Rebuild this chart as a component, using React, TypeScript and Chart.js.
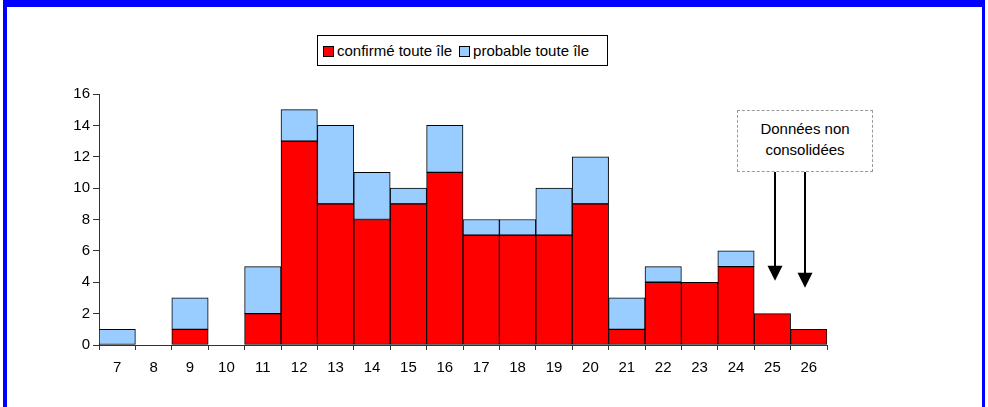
import React, { useEffect, useRef } from "react";
import { Chart, registerables } from "chart.js";

Chart.register(...registerables);

const categories = ["7", "8", "9", "10", "11", "12", "13", "14", "15", "16", "17", "18", "19", "20", "21", "22", "23", "24", "25", "26"];
const confirmed = [0, 0, 1, 0, 2, 13, 9, 8, 9, 11, 7, 7, 7, 9, 1, 4, 4, 5, 2, 1];
const probable = [1, 0, 2, 0, 3, 2, 5, 3, 1, 3, 1, 1, 3, 3, 2, 1, 0, 1, 0, 0];
const seriesNames = ["confirmé toute île", "probable toute île"];
const seriesColors = ["#FF0000", "#99CCFF"];
const yTicks = [0, 2, 4, 6, 8, 10, 12, 14, 16];
const arrowTargets = [
  { category: "25", offset: 0.08, tipValue: 4.1 },
  { category: "26", offset: -0.1, tipValue: 3.65 },
];
const arrowStartValue = 11.05;

const FONT = "Arial, 'Liberation Sans', Helvetica, sans-serif";

const arrowPlugin = {
  id: "arrows",
  afterDraw(chart: any) {
    const ctx = chart.ctx;
    const xs = chart.scales.x;
    const ys = chart.scales.y;
    ctx.save();
    arrowTargets.forEach((a) => {
      const idx = categories.indexOf(a.category);
      const x = Math.round(xs.getPixelForValue(idx + a.offset));
      const tip = ys.getPixelForValue(a.tipValue);
      const start = ys.getPixelForValue(arrowStartValue);
      const headH = 15;
      const headW = 7.5;
      ctx.strokeStyle = "#000";
      ctx.lineWidth = 2;
      ctx.beginPath();
      ctx.moveTo(x, start);
      ctx.lineTo(x, tip - headH + 1);
      ctx.stroke();
      ctx.fillStyle = "#000";
      ctx.beginPath();
      ctx.moveTo(x - headW, tip - headH);
      ctx.lineTo(x + headW, tip - headH);
      ctx.lineTo(x, tip);
      ctx.closePath();
      ctx.fill();
    });
    ctx.restore();
  },
};

const dropZeros = (arr: number[]) => arr.map((v) => (v === 0 ? null : v));

export default function App() {
  const ref = useRef<HTMLCanvasElement | null>(null);
  useEffect(() => {
    if (!ref.current) return;
    const chart = new Chart(ref.current, {
      type: "bar",
      data: {
        labels: categories,
        datasets: [
          {
            label: seriesNames[0],
            data: dropZeros(confirmed),
            backgroundColor: seriesColors[0],
            borderColor: "#000",
            borderWidth: 1,
            borderSkipped: false,
            barPercentage: 1,
            categoryPercentage: 1,
          },
          {
            label: seriesNames[1],
            data: dropZeros(probable),
            backgroundColor: seriesColors[1],
            borderColor: "#000",
            borderWidth: 1,
            borderSkipped: false,
            barPercentage: 1,
            categoryPercentage: 1,
          },
        ],
      },
      options: {
        animation: false,
        responsive: false,
        maintainAspectRatio: false,
        layout: { padding: { left: 0, top: 94, right: 161, bottom: 0 } },
        plugins: { legend: { display: false }, tooltip: { enabled: false } },
        scales: {
          x: {
            stacked: true,
            offset: true,
            grid: {
              offset: true,
              drawOnChartArea: false,
              drawTicks: true,
              tickLength: 5,
              color: "#333",
            },
            border: { color: "#333", width: 1 },
            ticks: { color: "#000", font: { family: FONT, size: 15 }, padding: 9, maxRotation: 0, autoSkip: false },
            afterFit: (s: any) => {
              s.height = 62;
            },
          },
          y: {
            stacked: true,
            min: 0,
            max: 16,
            afterBuildTicks: (s: any) => {
              s.ticks = yTicks.map((v) => ({ value: v }));
            },
            grid: { drawOnChartArea: false, drawTicks: true, tickLength: 6, color: "#333" },
            border: { color: "#333", width: 1 },
            ticks: { color: "#000", font: { family: FONT, size: 15 }, padding: 3 },
            afterFit: (s: any) => {
              s.width = 99;
            },
          },
        },
      },
      plugins: [arrowPlugin],
    });
    return () => chart.destroy();
  }, []);

  const swatch = (c: string) => (
    <span
      style={{
        display: "inline-block",
        width: 9,
        height: 9,
        background: c,
        border: "1px solid #000",
        marginRight: 3,
        verticalAlign: "middle",
        position: "relative",
        top: -1,
      }}
    />
  );

  return (
    <div style={{ position: "fixed", left: 0, top: 0, width: 988, height: 407, background: "#fff", overflow: "hidden" }}>
      <div
        style={{
          position: "absolute",
          left: 3,
          top: 0,
          width: 975,
          height: 420,
          borderLeft: "4px solid #0000FF",
          borderRight: "3px solid #0000FF",
          borderTop: "7px solid #0000FF",
        }}
      />
      <canvas ref={ref} width={988} height={407} style={{ position: "absolute", left: 0, top: 0 }} />
      <div
        style={{
          position: "absolute",
          left: 317,
          top: 35,
          width: 289,
          height: 29,
          border: "1px solid #000",
          boxSizing: "content-box",
          fontFamily: FONT,
          fontSize: 15,
          lineHeight: "29px",
          whiteSpace: "nowrap",
          background: "#fff",
        }}
      >
        <span style={{ marginLeft: 5 }}>{swatch(seriesColors[0])}confirmé toute île</span>
        <span style={{ marginLeft: 7 }}>{swatch(seriesColors[1])}probable toute île</span>
      </div>
      <div
        style={{
          position: "absolute",
          left: 737,
          top: 110,
          width: 134,
          height: 60,
          border: "1px dashed #999",
          fontFamily: FONT,
          fontSize: 15,
          lineHeight: "21px",
          textAlign: "center",
          boxSizing: "content-box",
          background: "#fff",
        }}
      >
        <div style={{ marginTop: 7 }}>Données non</div>
        <div>consolidées</div>
      </div>
    </div>
  );
}
